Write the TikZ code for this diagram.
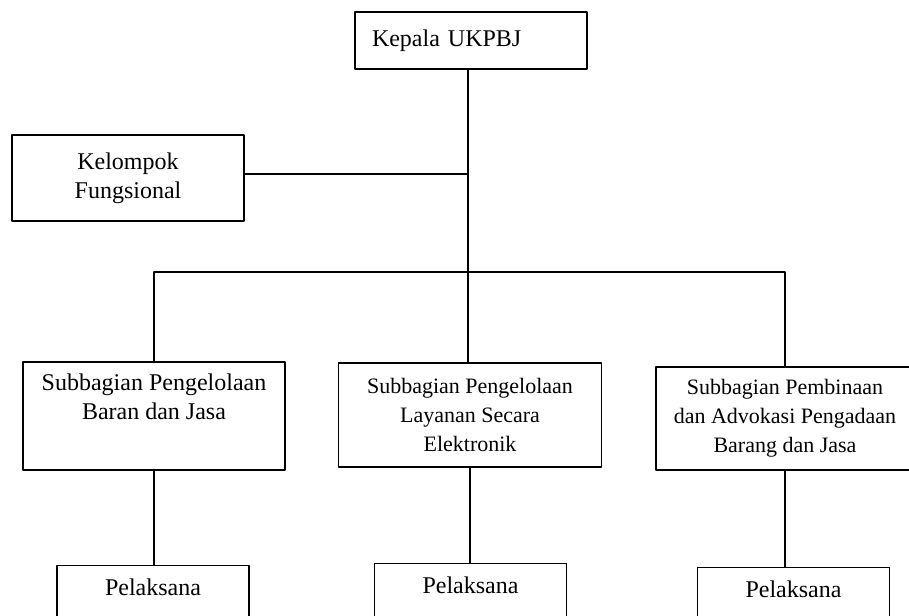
\documentclass[tikz,border=0pt]{standalone}
\usepackage{fontspec}
\setmainfont{Liberation Serif}
\begin{document}
\begin{tikzpicture}[x=.5pt,y=-.5pt,line width=.7pt,line join=round,
 font=\fontsize{12}{14.5}\selectfont,
 box/.style={draw,align=center,inner sep=0pt},
 lowbox/.style={draw,anchor=north,inner sep=0pt,minimum width=96pt,text height=15pt,text depth=25pt}]
 \useasboundingbox (0,0) rectangle (909,615);
 \clip (0,0) rectangle (909,615);
 % top and side
 \node[box,align=left,text width=99pt,inner xsep=8.5pt,minimum height=28.5pt] (kepala) at (471,40.5) {Kepala UKPBJ};
 \node[box,minimum width=116pt,minimum height=43pt] (kelompok) at (128,178) {Kelompok\\Fungsional};
 \coordinate (hub) at (468,272);
 % subbagian
 \node[box,minimum width=131pt,minimum height=54pt] (sub1) at (154,416) {Subbagian Pengelolaan\\Baran dan Jasa\\\strut};
 \node[box,minimum width=131.5pt,minimum height=52pt,font=\fontsize{11}{14.5}\selectfont] (sub2) at (470,415) {Subbagian Pengelolaan\\Layanan Secara\\Elektronik};
 \node[box,minimum width=129pt,minimum height=51.5pt,font=\fontsize{11}{14.5}\selectfont] (sub3) at (785,418.5) {Subbagian Pembinaan\\dan Advokasi Pengadaan\\Barang dan Jasa};
 % pelaksana
 \node[lowbox] (pel1) at (153,565) {Pelaksana};
 \node[lowbox] (pel2) at (470.5,563) {Pelaksana};
 \node[lowbox] (pel3) at (793.5,567) {Pelaksana};
 \draw (kepala.south -| hub) -- (hub);
 \draw ([yshift=2pt]kelompok.east) -- ([yshift=2pt]kelompok.east -| hub);
 \draw (sub1.north) |- (hub) -| (sub3.north);
 \draw (hub) -- (hub |- sub2.north);
 \draw (sub1.south) -- (sub1.south |- pel1.north);
 \draw (sub2.south) -- (sub2.south |- pel2.north);
 \draw (sub3.south) -- (sub3.south |- pel3.north);
\end{tikzpicture}
\end{document}
